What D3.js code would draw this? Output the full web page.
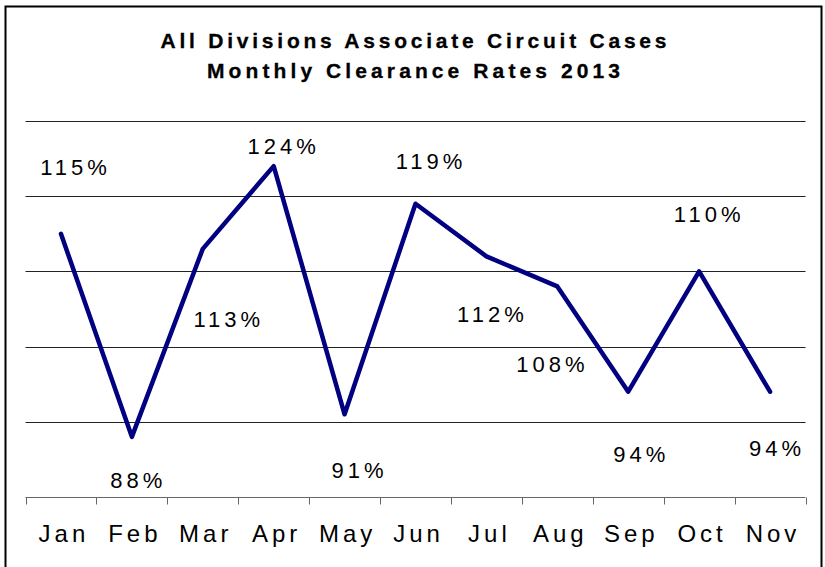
<!DOCTYPE html>
<html>
<head>
<meta charset="utf-8">
<script src="https://cdn.jsdelivr.net/npm/d3@7"></script>
<style>
  body { margin: 0; background: #fff; }
  svg { display: block; font-family: "Liberation Sans", Arial, sans-serif; }
</style>
</head>
<body>
<script>
const months = ["Jan", "Feb", "Mar", "Apr", "May", "Jun", "Jul", "Aug", "Sep", "Oct", "Nov"];
const rates = [115, 88, 113, 124, 91, 119, 112, 108, 94, 110, 94];
const gridValues = [90, 100, 110, 120, 130];
const titleLines = ["All Divisions Associate Circuit Cases", "Monthly Clearance Rates 2013"];

// hand placed label offsets (centre of text relative to the point)
const labelOffsets = [
  [12.5, -67], [4.5, 43], [24, 70.5], [8, -20], [13, 56], [13.5, -43],
  [4, 58], [-7, 77.5], [11, 62], [8, -57], [5, 56]
];

const w = 825;
const h = 567;

const svg = d3.select("body")
  .append("svg")
  .attr("width", w)
  .attr("height", h);

// outer frame
svg.append("rect")
  .attr("x", 5.5)
  .attr("y", 6.5)
  .attr("width", 816)
  .attr("height", 580)
  .attr("fill", "none")
  .attr("stroke", "#000")
  .attr("stroke-width", 2);

// title
const titleWidths = [506, 413];
svg.selectAll(".title")
  .data(titleLines)
  .enter()
  .append("text")
  .attr("class", "title")
  .attr("x", 413.5)
  .attr("y", (d, i) => 47.5 + i * 30.5)
  .attr("text-anchor", "middle")
  .attr("font-size", 21)
  .attr("font-weight", "bold")
  .attr("stroke", "#000")
  .attr("stroke-width", 0.3)
  .attr("textLength", (d, i) => titleWidths[i])
  .attr("lengthAdjust", "spacing")
  .text((d) => d);

const x = d3.scaleBand()
  .domain(months)
  .range([25.5, 805.5]);

const y = d3.scaleLinear()
  .domain([80, 130])
  .range([497, 121]);

const cx = (m) => x(m) + x.bandwidth() / 2;

// gridlines
svg.append("g")
  .selectAll("line")
  .data(gridValues)
  .enter()
  .append("line")
  .attr("x1", x.range()[0])
  .attr("x2", x.range()[1])
  .attr("y1", (d) => Math.round(y(d)) + 0.5)
  .attr("y2", (d) => Math.round(y(d)) + 0.5)
  .attr("stroke", "#222")
  .attr("stroke-width", 1);

// x axis: baseline, ticks between categories, labels
const axis = svg.append("g")
  .attr("transform", "translate(0," + (Math.round(y(80)) + 0.5) + ")");

axis.append("line")
  .attr("x1", x.range()[0])
  .attr("x2", x.range()[1])
  .attr("stroke", "#666")
  .attr("stroke-width", 1.2);

axis.selectAll(".tick")
  .data(months.map((m) => x(m)).concat([x.range()[1]]))
  .enter()
  .append("line")
  .attr("class", "tick")
  .attr("x1", (d) => Math.round(d) + 0.5)
  .attr("x2", (d) => Math.round(d) + 0.5)
  .attr("y1", 0)
  .attr("y2", 7)
  .attr("stroke", "#666")
  .attr("stroke-width", 1);

axis.selectAll(".mlabel")
  .data(months)
  .enter()
  .append("text")
  .attr("class", "mlabel")
  .attr("x", (d) => cx(d) + 3)
  .attr("y", 44.5)
  .attr("text-anchor", "middle")
  .attr("font-size", 24)
  .attr("letter-spacing", 4)
  .attr("fill", "#000")
  .text((d) => d);

// series line
const line = d3.line()
  .x((d, i) => cx(months[i]))
  .y((d) => y(d));

svg.append("path")
  .datum(rates)
  .attr("d", line)
  .attr("fill", "none")
  .attr("stroke", "#000080")
  .attr("stroke-width", 4.5)
  .attr("stroke-linejoin", "round")
  .attr("stroke-linecap", "round");

// data labels
svg.append("g")
  .selectAll("text")
  .data(rates)
  .enter()
  .append("text")
  .attr("x", (d, i) => cx(months[i]) + labelOffsets[i][0] + 2)
  .attr("y", (d, i) => y(d) + labelOffsets[i][1] + 8)
  .attr("text-anchor", "middle")
  .attr("font-size", 22)
  .attr("letter-spacing", 4)
  .attr("fill", "#000")
  .text((d) => d + "%");
</script>
</body>
</html>
